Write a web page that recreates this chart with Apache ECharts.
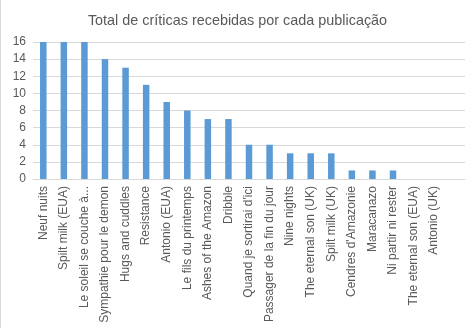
<!DOCTYPE html>
<html>
<head>
<meta charset="utf-8">
<script src="https://cdn.jsdelivr.net/npm/echarts@6/dist/echarts.min.js"></script>
<style>
  html, body { margin: 0; padding: 0; background: #fff; }
  #chart { width: 474px; height: 328px; box-sizing: border-box; border-left: 1px solid #d9d9d9; }
</style>
</head>
<body>
<div id="chart"></div>
<script>
const titleText = 'Total de críticas recebidas por cada publicação';

// The last, unlabeled slot is an empty category that keeps the plot width.
const categories = [
  'Neuf nuits', 'Spilt milk (EUA)', 'Le soleil se couche à...', 'Sympathie pour le demon',
  'Hugs and cuddles', 'Resistance', 'Antonio (EUA)', 'Le fils du printemps',
  'Ashes of the Amazon', 'Dribble', "Quand je sortirai d'ici", 'Passager de la fin du jour',
  'Nine nights', 'The eternal son (UK)', 'Spilt milk (UK)', "Cendres d'Amazonie",
  'Maracanazo', 'Ni partir ni rester', 'The eternal son (EUA)', 'Antonio (UK)', ''
];

const criticas = [16, 16, 16, 14, 13, 11, 9, 8, 7, 7, 4, 4, 3, 3, 3, 1, 1, 1, 0, 0, null];

const yTicks = [0, 2, 4, 6, 8, 10, 12, 14, 16];

const chart = echarts.init(document.getElementById('chart'), null, { renderer: 'canvas' });

chart.setOption({
  animation: false,
  title: {
    text: titleText,
    left: 'center',
    top: 9,
    textStyle: { fontFamily: 'Liberation Sans', fontSize: 14.4, fontWeight: 'normal', color: '#595959' }
  },
  grid: { left: 32, right: 9, top: 42, bottom: 149, containLabel: false },
  xAxis: {
    type: 'category',
    data: categories,
    boundaryGap: true,
    axisLine: { show: true, lineStyle: { color: '#d9d9d9', width: 1 } },
    axisTick: { show: false },
    axisLabel: {
      rotate: 90,
      interval: 0,
      margin: 7,
      fontFamily: 'Liberation Sans',
      fontSize: 12,
      color: '#595959'
    }
  },
  yAxis: {
    type: 'value',
    min: yTicks[0],
    max: yTicks[yTicks.length - 1],
    interval: 2,
    axisLine: { show: false },
    axisTick: { show: false },
    axisLabel: {
      margin: 7,
      fontFamily: 'Liberation Sans',
      fontSize: 12,
      color: '#595959'
    },
    splitLine: { lineStyle: { color: '#d9d9d9', width: 1 } }
  },
  series: [{
    type: 'bar',
    data: criticas,
    barWidth: 6.5,
    itemStyle: { color: '#5b9bd5' }
  }]
});
</script>
</body>
</html>
